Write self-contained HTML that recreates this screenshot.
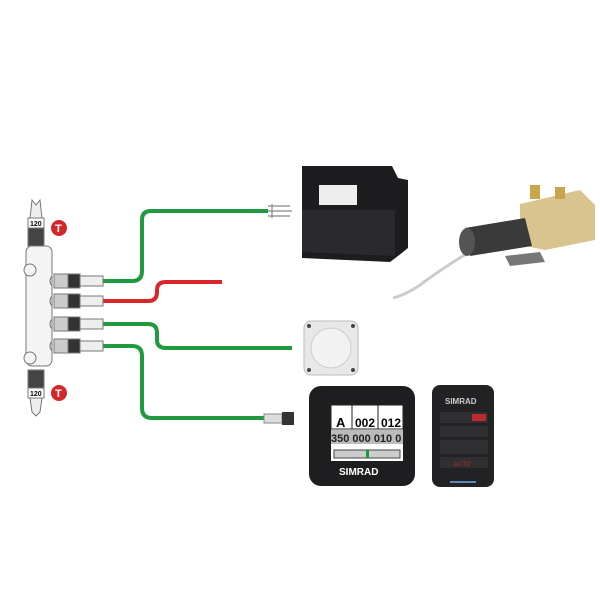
<!DOCTYPE html>
<html><head><style>
body{margin:0;background:#fff;}
svg{display:block;font-family:"Liberation Sans",sans-serif;}
</style></head><body>
<svg width="600" height="600" viewBox="0 0 600 600">
<rect width="600" height="600" fill="#fff"/>
<!-- cables -->
<g fill="none" stroke-width="4" stroke-linejoin="round">
<path d="M103 281 H132 Q142 281 142 271 V220 Q142 211 151 211 H268" stroke="#1f9a3e"/>
<path d="M103 301 H148 Q157 301 157 292 V290 Q157 282 166 282 H222" stroke="#d8262b"/>
<path d="M103 324 H148 Q157 324 157 333 V340 Q157 348 166 348 H292" stroke="#1f9a3e"/>
<path d="M103 346 H132 Q142 346 142 356 V408 Q142 418 152 418 H268" stroke="#1f9a3e"/>
</g>
<!-- fork connector top -->
<g stroke="#888" stroke-width="1.2" fill="none">
<path d="M268 206 H290 M268 211 H292 M268 216 H290 M272 204 V218"/>
</g>
<rect x="264" y="414" width="18" height="9" fill="#ddd" stroke="#888"/>
<rect x="282" y="412" width="12" height="13" fill="#333"/>
<!-- backbone -->
<g stroke="#777" stroke-width="1" fill="#f4f4f4">
<path d="M32 200 L36 205 L40 200 L42 218 L30 218 Z" fill="#eee"/>
<rect x="28" y="218" width="16" height="10" fill="#fff"/>
<rect x="28" y="228" width="16" height="18" fill="#444"/>
<rect x="26" y="246" width="26" height="120" rx="6"/>
<rect x="28" y="370" width="16" height="18" fill="#444"/>
<rect x="28" y="388" width="16" height="10" fill="#fff"/>
<path d="M30 398 H42 L40 412 L36 416 L32 412 Z" fill="#eee"/>
<circle cx="30" cy="270" r="6"/><circle cx="30" cy="358" r="6"/>
</g>
<text x="30" y="226" font-size="7" font-weight="bold">120</text>
<text x="30" y="396" font-size="7" font-weight="bold">120</text>
<g>
<circle cx="59" cy="228" r="8" fill="#d5262a"/><text x="55" y="232" font-size="11" fill="#fff" font-weight="bold">T</text>
<circle cx="59" cy="393" r="8" fill="#d5262a"/><text x="55" y="397" font-size="11" fill="#fff" font-weight="bold">T</text>
</g>
<g stroke="#777" stroke-width="1">
<g id="c"><path d="M52 276 Q48 281 52 286" fill="none"/><rect x="54" y="274" width="14" height="14" fill="#ccc"/><rect x="68" y="274" width="12" height="14" fill="#333"/><rect x="80" y="276" width="23" height="10" fill="#eee"/></g>
<use href="#c" y="20"/><use href="#c" y="43"/><use href="#c" y="65"/>
</g>
<!-- black box -->
<path d="M302 166 L392 166 L398 178 L408 180 L408 248 L398 256 L390 262 L302 258 Z" fill="#1d1d1f"/>
<path d="M302 210 L395 210 L395 256 L302 252 Z" fill="#2a2a2d"/>
<rect x="319" y="185" width="38" height="20" fill="#eee"/>
<!-- pump -->
<path d="M466 254 Q440 270 420 285 Q405 295 393 298" stroke="#ccc" stroke-width="3" fill="none"/>
<path d="M520 204 L580 190 L595 205 L595 240 L545 250 L520 245 Z" fill="#d9c48f"/>
<rect x="530" y="185" width="10" height="14" fill="#c9a44a"/>
<rect x="555" y="187" width="10" height="12" fill="#c9a44a"/>
<path d="M465 228 L525 218 L532 246 L470 256 Z" fill="#3a3a3a"/>
<ellipse cx="467" cy="242" rx="8" ry="14" fill="#555"/>
<path d="M505 256 L540 252 L545 262 L510 266 Z" fill="#777"/>
<!-- compass -->
<rect x="304" y="321" width="54" height="54" rx="7" fill="#e8e8ea" stroke="#bbb"/>
<circle cx="331" cy="348" r="20" fill="#f2f2f3" stroke="#ccc"/>
<circle cx="309" cy="326" r="2" fill="#444"/><circle cx="353" cy="326" r="2" fill="#444"/>
<circle cx="309" cy="370" r="2" fill="#444"/><circle cx="353" cy="370" r="2" fill="#444"/>
<!-- display -->
<rect x="309" y="386" width="106" height="100" rx="12" fill="#1e1e20"/>
<rect x="331" y="405" width="72" height="56" fill="#fff"/>
<rect x="331" y="405" width="72" height="24" fill="#fff" stroke="#222"/>
<line x1="352" y1="405" x2="352" y2="429" stroke="#222"/><line x1="378" y1="405" x2="378" y2="429" stroke="#222"/>
<text x="336" y="427" font-size="13" font-weight="bold">A</text>
<text x="355" y="427" font-size="12" font-weight="bold">002</text>
<text x="381" y="427" font-size="12" font-weight="bold">012</text>
<rect x="331" y="430" width="72" height="14" fill="#bbb"/>
<text x="331" y="442" font-size="11" font-weight="bold" fill="#222">350 000 010 0</text>
<rect x="334" y="450" width="66" height="8" fill="#ccc" stroke="#444"/>
<rect x="366" y="450" width="3" height="8" fill="#1a9a3a"/>
<text x="339" y="475" font-size="10" font-weight="bold" fill="#fff">SIMRAD</text>
<!-- remote -->
<rect x="432" y="385" width="62" height="102" rx="8" fill="#222224"/>
<text x="445" y="404" font-size="8" font-weight="bold" fill="#ccc">SIMRAD</text>
<rect x="440" y="412" width="48" height="11" fill="#2f2f31"/>
<rect x="472" y="414" width="14" height="7" fill="#c0292d"/>
<rect x="440" y="426" width="48" height="11" fill="#2f2f31"/>
<rect x="440" y="440" width="48" height="14" fill="#2f2f31"/>
<rect x="440" y="457" width="48" height="11" fill="#2f2f31"/>
<text x="454" y="466" font-size="6" fill="#c0292d">AUTO</text>
<rect x="450" y="481" width="26" height="2" fill="#5a8ab8"/>
</svg>
</body></html>
